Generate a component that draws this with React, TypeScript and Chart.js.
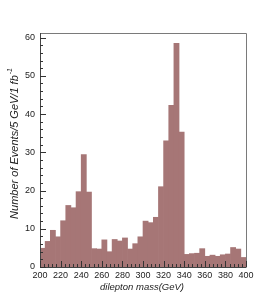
import React, { useEffect, useRef } from "react";
import { Chart, registerables } from "chart.js";

Chart.register(...registerables);

// Histogram bins (lower edges, GeV) and events per 5 GeV bin
const binLow = [
  200, 205, 210, 215, 220, 225, 230, 235, 240, 245,
  250, 255, 260, 265, 270, 275, 280, 285, 290, 295,
  300, 305, 310, 315, 320, 325, 330, 335, 340, 345,
  350, 355, 360, 365, 370, 375, 380, 385, 390, 395,
];
const counts = [
  4.9, 6.7, 9.6, 7.9, 12.1, 16.1, 15.5, 19.7, 29.4, 19.6,
  4.8, 4.7, 7.1, 4.0, 7.2, 6.8, 7.6, 4.7, 6.1, 7.9,
  12.0, 11.6, 13.0, 21.0, 33.0, 42.3, 58.5, 35.3, 3.3, 3.5,
  3.6, 4.8, 2.8, 3.1, 2.8, 3.2, 3.4, 5.1, 4.7, 2.5,
];
const binWidth = 5;
const xRange = [200, 400];
const yRange = [0, 61.2];
const xMajorStep = 20;
const yMajorStep = 10;
const xTitle = "dilepton mass(GeV)";
const yTitle = "Number of Events/5 GeV/1 fb";
const yTitleSup = "-1";

const FONT = "'Liberation Sans', Arial, Helvetica, sans-serif";

const frameAndTicks = {
  id: "frameAndTicks",
  afterDatasetsDraw(chart: any) {
    const { ctx, chartArea, scales } = chart;
    const { left, right, top, bottom } = chartArea;
    const xs = scales.x;
    const ys = scales.y;
    ctx.save();
    ctx.lineWidth = 1;
    // frame
    ctx.strokeStyle = "#7a7a7a";
    ctx.beginPath();
    ctx.moveTo(left, top + 0.5);
    ctx.lineTo(right + 0.5, top + 0.5);
    ctx.lineTo(right + 0.5, bottom);
    ctx.stroke();
    ctx.strokeStyle = "#444";
    ctx.beginPath();
    ctx.moveTo(left + 0.5, top);
    ctx.lineTo(left + 0.5, bottom + 0.5);
    ctx.lineTo(right + 0.5, bottom + 0.5);
    ctx.stroke();
    // x ticks (inside, pointing up)
    ctx.strokeStyle = "#333";
    const xMinor = xMajorStep / 5;
    for (let v = xRange[0]; v <= xRange[1] + 1e-6; v += xMinor) {
      const px = Math.round(xs.getPixelForValue(v)) + 0.5;
      const major = Math.abs(v / xMajorStep - Math.round(v / xMajorStep)) < 1e-6;
      const len = major ? 6 : 3;
      ctx.beginPath();
      ctx.moveTo(px, bottom);
      ctx.lineTo(px, bottom - len);
      ctx.stroke();
    }
    // y ticks (inside, pointing right)
    const yMinor = yMajorStep / 5;
    for (let v = yRange[0]; v <= yRange[1] + 1e-6; v += yMinor) {
      const py = Math.round(ys.getPixelForValue(v)) + 0.5;
      const major = Math.abs(v / yMajorStep - Math.round(v / yMajorStep)) < 1e-6;
      const len = major ? 6 : 3;
      ctx.beginPath();
      ctx.moveTo(left, py);
      ctx.lineTo(left + len, py);
      ctx.stroke();
    }
    ctx.restore();
  },
  afterDraw(chart: any) {
    const { ctx } = chart;
    ctx.save();
    ctx.fillStyle = "#222";
    // x title
    ctx.font = `italic 9.5px ${FONT}`;
    ctx.textAlign = "right";
    ctx.textBaseline = "middle";
    ctx.fillText(xTitle, 184, 287);
    // y title (rotated, aligned to top end)
    const mainFont = `italic 11px ${FONT}`;
    const supFont = `italic 7px ${FONT}`;
    ctx.font = mainFont;
    const wMain = ctx.measureText(yTitle).width;
    ctx.font = supFont;
    const wSup = ctx.measureText(yTitleSup).width;
    ctx.translate(14.5, 68);
    ctx.rotate(-Math.PI / 2);
    ctx.textAlign = "left";
    ctx.textBaseline = "middle";
    ctx.font = mainFont;
    ctx.fillText(yTitle, -(wMain + wSup + 1), 0);
    ctx.font = supFont;
    ctx.fillText(yTitleSup, -wSup, -4);
    ctx.restore();
  },
};

export default function App() {
  const ref = useRef<HTMLCanvasElement>(null);
  useEffect(() => {
    if (!ref.current) return;
    const chart = new Chart(ref.current, {
      type: "bar",
      data: {
        datasets: [
          {
            data: binLow.map((lo, i) => ({ x: lo + binWidth / 2, y: counts[i] })),
            backgroundColor: "#a67676",
            borderWidth: 0,
            barPercentage: 1,
            categoryPercentage: 1,
          },
        ],
      },
      options: {
        responsive: false,
        animation: false,
        devicePixelRatio: 1,
        layout: { padding: { left: 0, top: 33, right: 16, bottom: 0 } },
        plugins: { legend: { display: false }, tooltip: { enabled: false } },
        scales: {
          x: {
            type: "linear",
            min: xRange[0],
            max: xRange[1],
            offset: false,
            grid: { display: false, offset: false, drawTicks: false },
            border: { display: false },
            ticks: {
              stepSize: xMajorStep,
              autoSkip: false,
              maxRotation: 0,
              minRotation: 0,
              padding: 3,
              color: "#222",
              font: { family: FONT, size: 9 },
            },
            afterFit: (s: any) => {
              s.height = 33;
            },
          },
          y: {
            type: "linear",
            min: yRange[0],
            max: yRange[1],
            grid: { display: false, drawTicks: false },
            border: { display: false },
            ticks: {
              stepSize: yMajorStep,
              includeBounds: false,
              padding: 5,
              color: "#222",
              font: { family: FONT, size: 9 },
            },
            afterFit: (s: any) => {
              s.width = 40;
            },
          },
        },
      } as any,
      plugins: [frameAndTicks],
    });
    return () => chart.destroy();
  }, []);
  return (
    <div style={{ position: "fixed", left: 0, top: 0, width: 262, height: 300, background: "#fff" }}>
      <canvas ref={ref} width={262} height={300} style={{ width: 262, height: 300, display: "block" }} />
    </div>
  );
}
